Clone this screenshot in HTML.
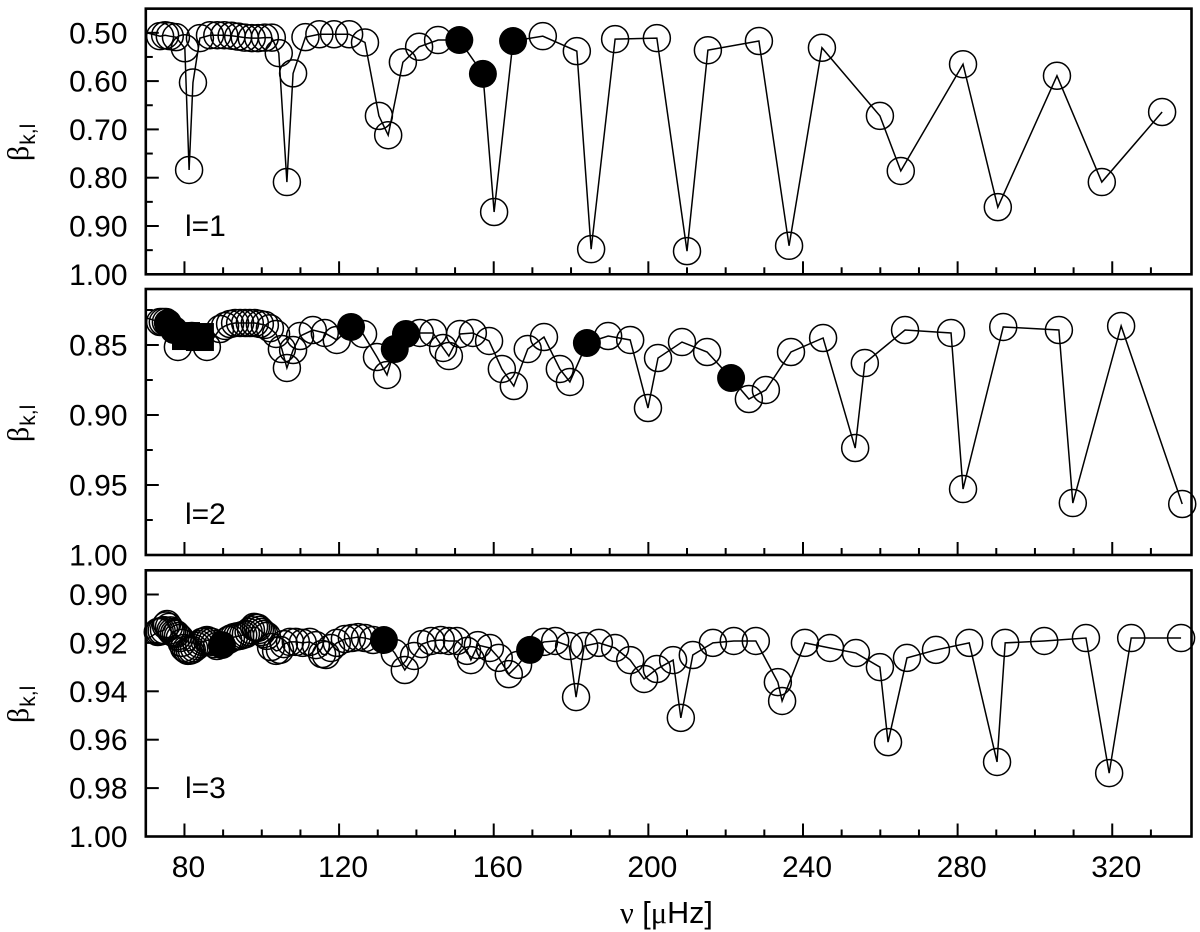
<!DOCTYPE html>
<html>
<head>
<meta charset="utf-8">
<title>Mode trapping coefficients</title>
<style>
html,body{margin:0;padding:0;background:#fff;width:1200px;height:932px;overflow:hidden}
svg{display:block;font-family:"Liberation Sans",sans-serif}
</style>
</head>
<body>
<svg id="chart" xmlns="http://www.w3.org/2000/svg" width="1200" height="932" viewBox="0 0 1200 932">
<text x="620" y="923" font-size="30.5" fill="#000"><tspan font-family="Liberation Serif, serif">ν</tspan> [<tspan font-family="Liberation Serif, serif">μ</tspan>Hz]</text>
</svg>
<script>
var xTickValues = [80, 90, 100, 110, 120, 130, 140, 150, 160, 170, 180, 190, 200, 210, 220, 230, 240, 250, 260, 270, 280, 290, 300, 310, 320, 330];
var xTickLabels = ['80', '', '', '', '120', '', '', '', '160', '', '', '', '200', '', '', '', '240', '', '', '', '280', '', '', '', '320', ''];

var l1YTicks = [0.50, 0.60, 0.70, 0.80, 0.90, 1.00];
var l1YMinor = [0.55, 0.65, 0.75, 0.85, 0.95];
var l1Freq = [69.3, 73.7, 75.0, 76.2, 77.8, 80.1, 81.2, 82.2, 84.0, 86.6, 88.5, 90.3, 92.2, 93.9, 95.6, 97.4, 99.1, 100.8, 102.6, 104.4, 106.5, 108.1, 111.3, 114.9, 118.7, 122.6, 126.7, 130.3, 132.7, 136.5, 140.7, 145.6, 151.1, 157.2, 160.1, 165.0, 172.7, 181.5, 185.2, 191.4, 202.2, 210.0, 215.4, 228.6, 236.4, 244.9, 259.9, 265.3, 281.4, 290.4, 305.7, 317.3, 332.9];
var l1Beta = [0.498, 0.507, 0.505, 0.507, 0.509, 0.532, 0.784, 0.603, 0.511, 0.505, 0.505, 0.505, 0.506, 0.508, 0.510, 0.511, 0.511, 0.510, 0.510, 0.542, 0.809, 0.584, 0.509, 0.503, 0.503, 0.503, 0.520, 0.672, 0.712, 0.561, 0.529, 0.515, 0.515, 0.585, 0.871, 0.517, 0.507, 0.538, 0.948, 0.513, 0.511, 0.952, 0.536, 0.517, 0.941, 0.531, 0.672, 0.786, 0.565, 0.861, 0.589, 0.809, 0.664];
var l1Filled = [32, 33, 35];
var l1Square = [];

var l2YTicks = [0.85, 0.90, 0.95, 1.00];
var l2YMinor = [0.825, 0.875, 0.925, 0.975];
var l2Freq = [69.3, 73.7, 74.4, 75.2, 75.7, 77.3, 78.3, 80.4, 81.9, 84.0, 85.8, 89.2, 90.5, 91.8, 93.1, 94.4, 95.7, 96.9, 98.2, 99.5, 100.8, 102.1, 103.7, 105.2, 106.5, 108.1, 109.9, 113.2, 116.3, 119.4, 123.1, 126.2, 129.8, 132.4, 134.4, 137.3, 140.9, 144.3, 146.9, 148.4, 151.3, 154.6, 158.8, 162.1, 165.2, 168.8, 173.0, 177.1, 179.7, 184.1, 189.6, 195.3, 199.9, 202.5, 208.7, 215.2, 221.4, 226.0, 230.4, 236.9, 245.2, 253.5, 256.0, 266.4, 278.3, 281.4, 291.8, 306.2, 309.8, 322.3, 338.1];
var l2Beta = [0.830, 0.8336, 0.8336, 0.8336, 0.8343, 0.8393, 0.8514, 0.8436, 0.8436, 0.8443, 0.8514, 0.8386, 0.8364, 0.835, 0.8343, 0.8343, 0.8343, 0.8343, 0.8343, 0.835, 0.8357, 0.838, 0.8421, 0.8529, 0.8664, 0.8536, 0.8436, 0.8393, 0.8414, 0.8464, 0.8371, 0.8421, 0.8586, 0.8714, 0.8529, 0.8421, 0.8414, 0.8414, 0.8521, 0.8579, 0.8421, 0.8414, 0.8471, 0.8671, 0.8793, 0.8529, 0.8443, 0.8671, 0.8764, 0.8486, 0.8436, 0.8464, 0.895, 0.8593, 0.8479, 0.855, 0.8736, 0.8886, 0.8821, 0.855, 0.845, 0.9236, 0.8629, 0.8393, 0.8414, 0.9529, 0.8371, 0.8393, 0.9629, 0.8364, 0.9636];
var l2Filled = [4, 5, 30, 34, 35, 49, 56];
var l2Square = [7, 9];

var l3YTicks = [0.90, 0.92, 0.94, 0.96, 0.98, 1.00];
var l3YMinor = [];
var l3Freq = [69.3, 73.1, 73.6, 74.1, 74.7, 75.2, 75.5, 76.0, 76.4, 76.8, 77.3, 77.8, 78.3, 78.8, 79.3, 79.9, 80.4, 80.9, 81.4, 81.9, 82.5, 83.2, 83.8, 84.5, 85.2, 85.8, 86.4, 87.1, 87.7, 88.4, 89.7, 91.3, 92.0, 92.8, 93.6, 94.4, 95.2, 95.9, 96.6, 97.2, 98.0, 98.5, 99.0, 99.5, 100.0, 100.6, 101.3, 102.4, 103.7, 104.7, 105.7, 107.3, 108.8, 110.6, 112.4, 114.0, 115.6, 116.6, 117.9, 119.4, 121.5, 123.3, 124.9, 126.7, 128.8, 131.6, 134.4, 137.0, 139.4, 141.4, 143.8, 146.3, 148.4, 150.5, 153.1, 154.1, 155.9, 159.0, 161.3, 163.9, 166.3, 169.4, 173.0, 175.9, 179.5, 181.3, 183.4, 187.2, 191.4, 195.3, 198.9, 202.2, 206.4, 208.4, 211.5, 216.7, 222.1, 227.8, 233.5, 234.6, 240.5, 247.0, 253.7, 259.9, 262.0, 266.9, 274.4, 283.0, 290.2, 292.3, 302.4, 313.2, 319.2, 324.9, 337.8];
var l3Beta = [0.9196, 0.9155, 0.9153, 0.9151, 0.9147, 0.9128, 0.9122, 0.9134, 0.9148, 0.9155, 0.916, 0.9163, 0.9172, 0.918, 0.92, 0.9221, 0.9228, 0.9233, 0.9232, 0.9229, 0.9222, 0.9213, 0.9205, 0.9196, 0.9192, 0.9188, 0.9192, 0.9196, 0.9205, 0.9213, 0.9209, 0.9188, 0.9182, 0.9176, 0.9173, 0.9171, 0.9167, 0.9163, 0.9155, 0.9147, 0.9134, 0.9136, 0.9138, 0.9146, 0.9155, 0.9163, 0.9171, 0.9217, 0.9233, 0.9229, 0.9205, 0.9196, 0.9196, 0.92, 0.9196, 0.9209, 0.9246, 0.925, 0.9221, 0.92, 0.9184, 0.918, 0.9176, 0.918, 0.9188, 0.9188, 0.9242, 0.9312, 0.9254, 0.9205, 0.9192, 0.9188, 0.9192, 0.9192, 0.9233, 0.9271, 0.9209, 0.9221, 0.9262, 0.9329, 0.9291, 0.9229, 0.9196, 0.9192, 0.9213, 0.9424, 0.9213, 0.92, 0.9221, 0.9271, 0.9349, 0.9308, 0.9271, 0.951, 0.925, 0.92, 0.9192, 0.9192, 0.9362, 0.944, 0.92, 0.9221, 0.9242, 0.93, 0.961, 0.9262, 0.9229, 0.92, 0.9692, 0.92, 0.9192, 0.918, 0.9738, 0.918, 0.918];
var l3Filled = [30, 65, 81];
var l3Square = [];

var NS = 'http://www.w3.org/2000/svg';
var svg = document.getElementById('chart');
var xMin = 70, xMax = 340.5, xLeft = 145.8, xRight = 1191.5;

function xScale(v) {
  return xLeft + (v - xMin) / (xMax - xMin) * (xRight - xLeft);
}
function yScale(p, b) {
  return p.bottom - (p.yMax - b) / (p.yMax - p.yMin) * (p.bottom - p.top);
}
function make(tag, attrs, parent) {
  var e = document.createElementNS(NS, tag);
  for (var k in attrs) e.setAttribute(k, attrs[k]);
  parent.appendChild(e);
  return e;
}

var panels = [
  {id: 'l1', label: 'l=1', top: 8.65, bottom: 274.3, yMin: 0.45, yMax: 1, ticks: l1YTicks, minor: l1YMinor, freq: l1Freq, beta: l1Beta, filled: l1Filled, square: l1Square, labelY: 236, dec: 2},
  {id: 'l2', label: 'l=2', top: 289, bottom: 555, yMin: 0.81, yMax: 1, ticks: l2YTicks, minor: l2YMinor, freq: l2Freq, beta: l2Beta, filled: l2Filled, square: l2Square, labelY: 524, dec: 2},
  {id: 'l3', label: 'l=3', top: 570.3, bottom: 836.5, yMin: 0.89, yMax: 1, ticks: l3YTicks, minor: l3YMinor, freq: l3Freq, beta: l3Beta, filled: l3Filled, square: l3Square, labelY: 798, dec: 2}
];

panels.forEach(function (p, pi) {
  var g = make('g', {}, svg);
  
  

  var clip = make('clipPath', {id: 'clip-' + p.id}, g);
  make('rect', {x: xLeft, y: p.top, width: xRight - xLeft, height: p.bottom - p.top}, clip);

  // line
  var d = p.freq.map(function (v, i) {
    return (i ? 'L' : 'M') + xScale(v).toFixed(2) + ' ' + yScale(p, p.beta[i]).toFixed(2);
  }).join('');
  var line = make('path', {d: d, fill: 'none', stroke: '#000', 'stroke-width': 1.5, 'stroke-linejoin': 'miter', 'clip-path': 'url(#clip-' + p.id + ')'}, g);
  
  

  // open circles first, solid marks above them
  p.freq.forEach(function (v, i) {
    if (v < xMin || p.filled.indexOf(i) >= 0 || p.square.indexOf(i) >= 0) return;
    var c = make('circle', {cx: xScale(v).toFixed(2), cy: yScale(p, p.beta[i]).toFixed(2), r: 13.5, fill: 'none', stroke: '#000', 'stroke-width': 1.5}, g);
    
    
  });
  p.filled.forEach(function (i) {
    var c = make('circle', {cx: xScale(p.freq[i]).toFixed(2), cy: yScale(p, p.beta[i]).toFixed(2), r: 14, fill: '#000'}, g);
    
    
  });
  p.square.forEach(function (i) {
    var s = make('rect', {x: (xScale(p.freq[i]) - 14).toFixed(2), y: (yScale(p, p.beta[i]) - 14).toFixed(2), width: 28, height: 28, fill: '#000'}, g);
    
    
  });

  // y ticks
  p.ticks.forEach(function (t) {
    var y = yScale(p, t);
    var tick = make('line', {x1: xLeft, x2: xLeft + 13, y1: y, y2: y, stroke: '#000', 'stroke-width': 2}, g);
    
    
    var lab = make('text', {x: 127.5, y: y + 10.5, 'text-anchor': 'end', 'font-size': 30, fill: '#000'}, g);
    lab.textContent = t.toFixed(p.dec);
    
    
  });
  p.minor.forEach(function (t) {
    var y = yScale(p, t);
    var tick = make('line', {x1: xLeft, x2: xLeft + 7, y1: y, y2: y, stroke: '#000', 'stroke-width': 2}, g);
    
    
  });

  // x ticks
  xTickValues.forEach(function (v, i) {
    var x = xScale(v);
    var major = xTickLabels[i] !== '';
    var tick = make('line', {x1: x, x2: x, y1: p.bottom, y2: p.bottom - (major ? 13 : 7), stroke: '#000', 'stroke-width': 2}, g);
    
    
    if (major && pi === 2) {
      var lab = make('text', {x: x + 4, y: 877, 'text-anchor': 'middle', 'font-size': 30, fill: '#000'}, g);
      lab.textContent = xTickLabels[i];
      
      
    }
  });

  // frame
  var frame = make('rect', {x: xLeft, y: p.top, width: xRight - xLeft, height: p.bottom - p.top, fill: 'none', stroke: '#000', 'stroke-width': 2.6}, g);
  
  

  // annotation
  var note = make('text', {x: 185, y: p.labelY, 'font-size': 30, fill: '#000'}, g);
  note.textContent = p.label;
  
  

  // y title
  var yBase = [161, 442, 723][pi];
  var title = make('text', {transform: 'translate(28 ' + yBase + ') rotate(-90)', 'font-size': 30, fill: '#000'}, g);
  
  
  var beta = make('tspan', {'font-family': 'Liberation Serif, serif'}, title);
  beta.textContent = 'β';
  var sub = make('tspan', {'font-size': 21, dy: 7, dx: 1}, title);
  sub.textContent = 'k,l';
});
</script>
</body>
</html>
